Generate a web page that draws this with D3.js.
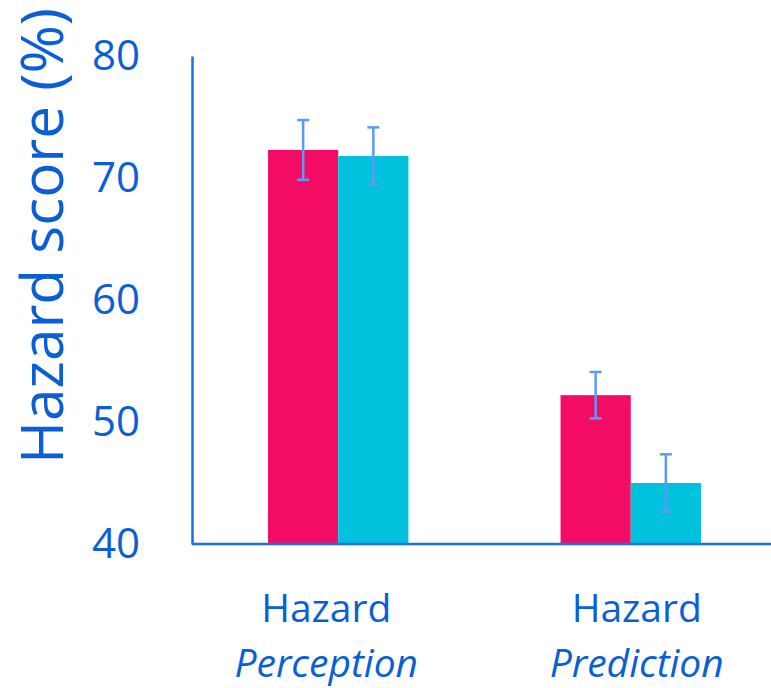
<!DOCTYPE html>
<html>
<head>
<meta charset="utf-8">
<script src="https://cdn.jsdelivr.net/npm/d3@7"></script>
<style>
  body { margin: 0; background: #fff; }
  text { font-family: "Open Sans", "Noto Sans", sans-serif; fill: #0a5fd6; }
</style>
</head>
<body>
<div id="chart"></div>
<script>
const categories = ["Perception", "Prediction"];
const series = ["A", "B"];
const valuesA = [72.3, 52.2];
const errorsA = [2.45, 1.9];
const valuesB = [71.8, 45.0];
const errorsB = [2.35, 2.35];
const yTicks = [40, 50, 60, 70, 80];
const colors = {A: "#f20c63", B: "#00c2dd"};

const width = 771, height = 688;
const plot = {left: 192, right: 777, top: 56, bottom: 544};

const svg = d3.select("#chart").append("svg")
  .attr("width", width)
  .attr("height", height);

const x = d3.scaleBand()
  .domain(categories)
  .range([plot.left, plot.right])
  .paddingInner(0.52)
  .paddingOuter(0.26);

const xInner = d3.scaleBand()
  .domain(series)
  .range([0, x.bandwidth()]);

const y = d3.scaleLinear()
  .domain([40, 80])
  .range([plot.bottom, plot.top]);

const data = [];
categories.forEach((c, i) => {
  data.push({cat: c, s: "A", value: valuesA[i], err: errorsA[i]});
  data.push({cat: c, s: "B", value: valuesB[i], err: errorsB[i]});
});

// Bars
svg.append("g").selectAll("rect")
  .data(data)
  .join("rect")
    .attr("x", d => x(d.cat) + xInner(d.s))
    .attr("y", d => y(d.value))
    .attr("width", xInner.bandwidth())
    .attr("height", d => y(40) - y(d.value))
    .attr("fill", d => colors[d.s]);

// Error bars
const eb = svg.append("g")
  .attr("stroke", "#5a9cf5")
  .attr("stroke-width", 2.5);
data.forEach(d => {
  const cx = x(d.cat) + xInner(d.s) + xInner.bandwidth() / 2;
  eb.append("line")
    .attr("x1", cx).attr("x2", cx)
    .attr("y1", y(d.value + d.err)).attr("y2", y(d.value - d.err));
  [d.value + d.err, d.value - d.err].forEach(v => {
    eb.append("line")
      .attr("x1", cx - 6).attr("x2", cx + 6)
      .attr("y1", y(v)).attr("y2", y(v));
  });
});

// Axes
const yAxis = svg.append("g")
  .attr("transform", `translate(${plot.left},0)`)
  .call(d3.axisLeft(y).tickValues(yTicks).tickSize(0).tickPadding(52));
yAxis.select(".domain").attr("stroke", "#1a6fe6").attr("stroke-width", 2.5);
yAxis.selectAll("text")
  .style("font-size", "42px")
  .attr("fill", "#0a5fd6");

svg.append("line")
  .attr("x1", plot.left).attr("x2", width)
  .attr("y1", plot.bottom).attr("y2", plot.bottom)
  .attr("stroke", "#1a6fe6")
  .attr("stroke-width", 2.5);

// Category labels (the text block sits a little off the bar pair)
const labelShift = {Perception: -12, Prediction: 6};
categories.forEach(c => {
  const cx = x(c) + x.bandwidth() / 2 + labelShift[c];
  svg.append("text")
    .attr("x", cx).attr("y", 622)
    .attr("text-anchor", "middle")
    .style("font-size", "39px")
    .text("Hazard");
  svg.append("text")
    .attr("x", cx).attr("y", 677)
    .attr("text-anchor", "middle")
    .style("font-size", "39px")
    .style("font-style", "italic")
    .text(c);
});

// Y axis title
svg.append("text")
  .attr("transform", "translate(63,236) rotate(-90)")
  .attr("text-anchor", "middle")
  .attr("textLength", 456)
  .attr("lengthAdjust", "spacingAndGlyphs")
  .style("font-size", "58px")
  .text("Hazard score (%)");
</script>
</body>
</html>
